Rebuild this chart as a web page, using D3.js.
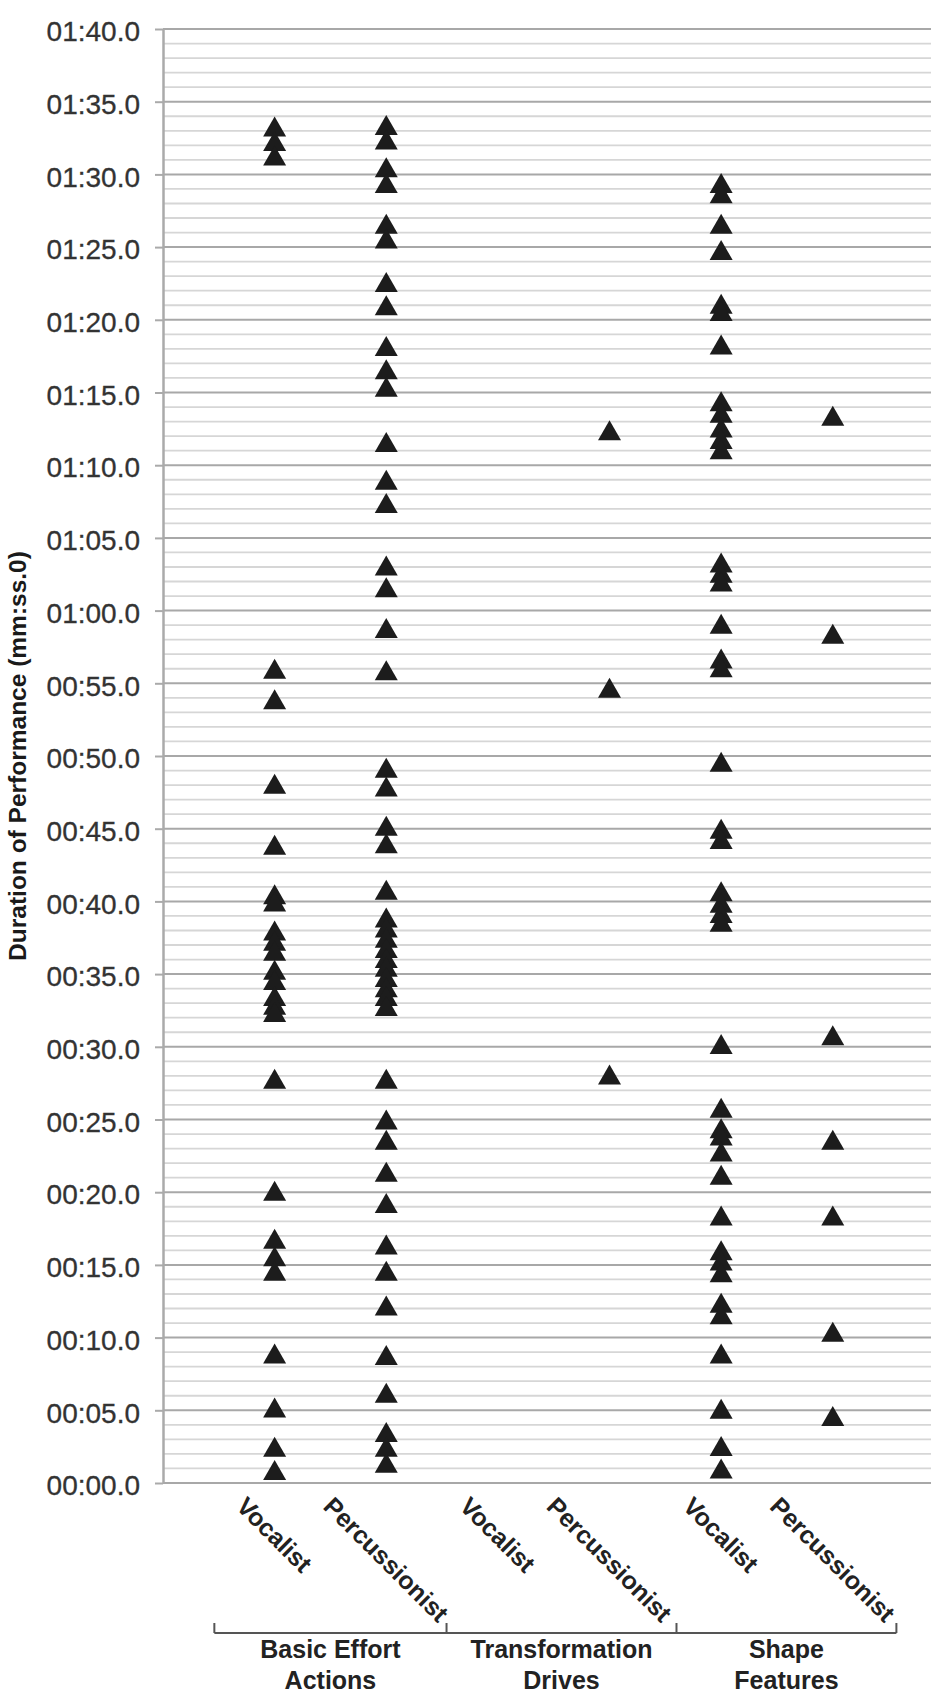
<!DOCTYPE html>
<html>
<head>
<meta charset="utf-8">
<script src="https://cdn.jsdelivr.net/npm/d3@7"></script>
<style>
  body { margin: 0; background: #fff; }
  text { font-family: "Liberation Sans", Arial, Helvetica, sans-serif; }
</style>
</head>
<body>
<div id="chart"></div>
<script>
// x axis categories and the groups under them
var categories = ["Vocalist", "Percussionist", "Vocalist", "Percussionist", "Vocalist", "Percussionist"];
var groupNames = [["Basic Effort", "Actions"], ["Transformation", "Drives"], ["Shape", "Features"]];
var groupEdges = [0.46, 2.54, 4.6, 6.57];

// time of each observation, in seconds
var beaVocalist = [93.3, 92.3, 91.3, 56.0, 53.9, 48.1, 43.9, 40.5, 40.0, 38.0, 37.3, 36.6, 35.3, 34.6,
                   33.5, 32.9, 32.4, 27.8, 20.1, 16.8, 15.6, 14.6, 8.9, 5.2, 2.5, 0.9];
var beaPercussionist = [93.4, 92.4, 90.5, 89.4, 86.6, 85.6, 82.6, 81.0, 78.2, 76.6, 75.4, 71.6, 69.0, 67.4,
                        63.1, 61.6, 58.8, 55.9, 49.2, 47.9, 45.2, 44.0, 40.8, 38.9, 38.2, 37.5, 36.8, 36.1,
                        35.5, 34.8, 34.1, 33.5, 32.8, 27.8, 25.0, 23.6, 21.4, 19.25, 16.4, 14.6, 12.2, 8.8,
                        6.2, 3.5, 2.5, 1.4];
var tdVocalist = [];
var tdPercussionist = [72.4, 54.7, 28.1];
var sfVocalist = [89.4, 88.7, 86.6, 84.8, 81.1, 80.6, 78.3, 74.4, 73.6, 72.6, 71.8, 71.1, 63.3, 62.6, 62.0,
                  59.1, 56.7, 56.1, 49.6, 45.0, 44.3, 40.7, 39.9, 39.2, 38.6, 30.2, 25.8, 24.4, 23.9, 22.8,
                  21.2, 18.4, 16.0, 15.3, 14.5, 12.4, 11.6, 8.9, 5.1, 2.55, 1.0];
var sfPercussionist = [73.4, 58.4, 30.8, 23.6, 18.4, 10.4, 4.6];

var series = [beaVocalist, beaPercussionist, tdVocalist, tdPercussionist, sfVocalist, sfPercussionist];

var yTicks = d3.range(0, 101, 5);
var yMinor = d3.range(0, 101, 1).filter(function(d) { return d % 5 !== 0; });

var w = 945, h = 1707;
var marg = { top: 29, right: 14, bottom: 224, left: 163 };

var svg = d3.select("#chart")
            .append("svg")
            .attr("width", w)
            .attr("height", h);

var x = d3.scaleLinear()
          .domain([0, 6.88])
          .range([marg.left, w - marg.right]);

var y = d3.scaleLinear()
          .domain([0, 100])
          .range([h - marg.bottom, marg.top]);

function pad(n) { return (n < 10 ? "0" : "") + n; }
function fmt(s) { return pad(Math.floor(s / 60)) + ":" + pad(s % 60) + ".0"; }

// gridlines
svg.append("g")
   .selectAll("line")
   .data(yMinor)
   .enter().append("line")
   .attr("x1", x(0)).attr("x2", x(6.88))
   .attr("y1", function(d) { return y(d); })
   .attr("y2", function(d) { return y(d); })
   .attr("stroke", "#d6d6d6")
   .attr("stroke-width", 1.8);

svg.append("g")
   .selectAll("line")
   .data(yTicks)
   .enter().append("line")
   .attr("x1", x(0)).attr("x2", x(6.88))
   .attr("y1", function(d) { return y(d); })
   .attr("y2", function(d) { return y(d); })
   .attr("stroke", "#a8a8a8")
   .attr("stroke-width", 2);

// y axis
var yAxis = svg.append("g")
   .attr("transform", "translate(" + marg.left + ",0)")
   .call(d3.axisLeft(y).tickValues(yTicks).tickFormat(fmt).tickSize(8).tickSizeOuter(0).tickPadding(15));

yAxis.select(".domain").attr("stroke", "#aaaaaa").attr("stroke-width", 2.5);
yAxis.selectAll(".tick line").attr("stroke", "#aaaaaa").attr("stroke-width", 2);
yAxis.selectAll(".tick text")
     .attr("font-size", 28)
     .attr("fill", "#333")
     .attr("stroke", "#333")
     .attr("stroke-width", 0.3)
     .attr("dy", "0.42em");

svg.append("text")
   .attr("transform", "translate(17," + y(50) + ") rotate(-90)")
   .attr("text-anchor", "middle")
   .attr("dominant-baseline", "central")
   .attr("font-size", 24.5)
   .attr("font-weight", "bold")
   .attr("fill", "#1a1a1a")
   .text("Duration of Performance (mm:ss.0)");

// triangle markers
var tw = 23, th = 20;
series.forEach(function(vals, i) {
  svg.append("g")
     .selectAll("path")
     .data(vals)
     .enter().append("path")
     .attr("transform", function(d) { return "translate(" + x(i + 1) + "," + y(d) + ")"; })
     .attr("d", "M0," + (-th / 2) + "L" + (tw / 2) + "," + (th / 2) + "L" + (-tw / 2) + "," + (th / 2) + "Z")
     .attr("fill", "#1c1c1c");
});

// rotated category labels, centred on each column
var labelTop = y(0) + 12;
categories.forEach(function(c, i) {
  var t = svg.append("text")
     .attr("text-anchor", "middle")
     .attr("dominant-baseline", "central")
     .attr("font-size", 25)
     .attr("font-weight", "bold")
     .attr("fill", "#222")
     .text(c);
  var len = t.node().getComputedTextLength();
  var cy = labelTop + (len + 18) * Math.SQRT1_2 / 2;
  t.attr("transform", "translate(" + x(i + 1) + "," + cy + ") rotate(45)");
});

// group brackets
var brY = 1633;
var br = svg.append("g").attr("stroke", "#555").attr("stroke-width", 2).attr("fill", "none");
br.append("line")
  .attr("x1", x(groupEdges[0])).attr("x2", x(groupEdges[groupEdges.length - 1]))
  .attr("y1", brY).attr("y2", brY);
br.selectAll(".tk")
  .data(groupEdges)
  .enter().append("line")
  .attr("x1", function(d) { return x(d); })
  .attr("x2", function(d) { return x(d); })
  .attr("y1", brY - 10).attr("y2", brY);

groupNames.forEach(function(g, i) {
  var cx = (x(groupEdges[i]) + x(groupEdges[i + 1])) / 2;
  var t = svg.append("text")
     .attr("text-anchor", "middle")
     .attr("font-size", 25)
     .attr("font-weight", "bold")
     .attr("fill", "#222");
  g.forEach(function(line, j) {
    t.append("tspan")
     .attr("x", cx)
     .attr("y", brY + 25 + j * 31)
     .text(line);
  });
});
</script>
</body>
</html>
